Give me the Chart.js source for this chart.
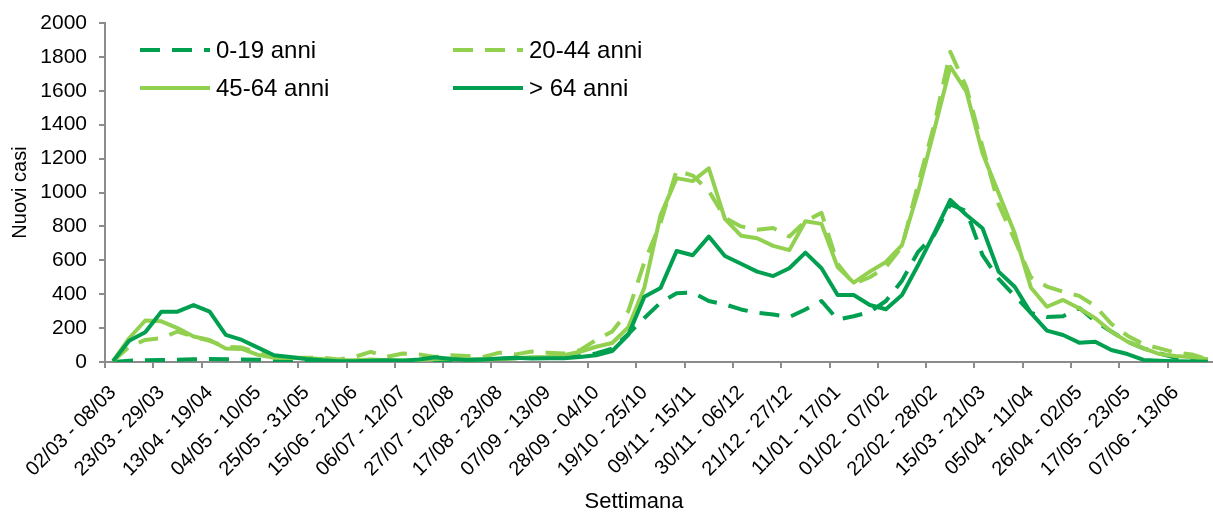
<!DOCTYPE html>
<html lang="it">
<head>
<meta charset="UTF-8">
<title>Nuovi casi per settimana e fascia d'età</title>
<script src="https://cdn.jsdelivr.net/npm/chart.js"></script>
<style>
    html, body { margin: 0; padding: 0; background: #fff; overflow: hidden; }
</style>
</head>
<body>
<canvas id="casi" width="1218" height="514"></canvas>

<script>
// settimane (02/03/2020 - 27/06/2021)
const settimane = [
    '02/03 - 08/03', '09/03 - 15/03', '16/03 - 22/03', '23/03 - 29/03', '30/03 - 05/04', '06/04 - 12/04',
    '13/04 - 19/04', '20/04 - 26/04', '27/04 - 03/05', '04/05 - 10/05', '11/05 - 17/05', '18/05 - 24/05',
    '25/05 - 31/05', '01/06 - 07/06', '08/06 - 14/06', '15/06 - 21/06', '22/06 - 28/06', '29/06 - 05/07',
    '06/07 - 12/07', '13/07 - 19/07', '20/07 - 26/07', '27/07 - 02/08', '03/08 - 09/08', '10/08 - 16/08',
    '17/08 - 23/08', '24/08 - 30/08', '31/08 - 06/09', '07/09 - 13/09', '14/09 - 20/09', '21/09 - 27/09',
    '28/09 - 04/10', '05/10 - 11/10', '12/10 - 18/10', '19/10 - 25/10', '26/10 - 01/11', '02/11 - 08/11',
    '09/11 - 15/11', '16/11 - 22/11', '23/11 - 29/11', '30/11 - 06/12', '07/12 - 13/12', '14/12 - 20/12',
    '21/12 - 27/12', '28/12 - 03/01', '04/01 - 10/01', '11/01 - 17/01', '18/01 - 24/01', '25/01 - 31/01',
    '01/02 - 07/02', '08/02 - 14/02', '15/02 - 21/02', '22/02 - 28/02', '01/03 - 07/03', '08/03 - 14/03',
    '15/03 - 21/03', '22/03 - 28/03', '29/03 - 04/04', '05/04 - 11/04', '12/04 - 18/04', '19/04 - 25/04',
    '26/04 - 02/05', '03/05 - 09/05', '10/05 - 16/05', '17/05 - 23/05', '24/05 - 30/05', '31/05 - 06/06',
    '07/06 - 13/06', '14/06 - 20/06', '21/06 - 27/06'
];

// nuovi casi per fascia d'età
const anni0_19 = [
    0, 8, 10, 12, 14, 16, 18, 16, 15, 14, 12, 10,
    8, 5, 4, 4, 5, 5, 6, 8, 10, 12, 14, 15,
    18, 22, 25, 25, 30, 35, 50, 80, 165, 260, 350, 405,
    410, 360, 340, 310, 290, 280, 265, 310, 360, 250, 270, 295,
    360, 480, 650, 750, 930, 890, 630, 490, 390, 290, 265, 270,
    320, 240, 180, 120, 80, 50, 25, 15, 10
];
const anni20_44 = [
    5, 90, 130, 140, 180, 150, 125, 90, 85, 55, 35, 25,
    25, 25, 15, 30, 60, 30, 50, 45, 30, 40, 35, 30,
    55, 45, 62, 55, 50, 70, 130, 180, 300, 590, 820, 1130,
    1100, 1010, 850, 800, 780, 790, 740, 830, 880, 580, 460, 500,
    560, 680, 1050, 1400, 1830, 1620, 1270, 930, 720, 500, 445, 415,
    390, 330, 225, 155, 105, 80, 55, 45, 15
];
const anni45_64 = [
    5, 140, 245, 240, 200, 150, 130, 80, 77, 42, 25, 24,
    22, 18, 12, 10, 15, 10, 10, 12, 18, 20, 15, 15,
    18, 22, 28, 30, 40, 60, 90, 112, 205, 440, 865, 1085,
    1067, 1143, 845, 745, 730, 685, 660, 830, 815, 560, 468, 533,
    590, 690, 1005, 1369, 1742, 1595, 1231, 995, 759, 440, 326, 366,
    317, 258, 179, 120, 81, 47, 35, 28, 16
];
const anniOltre64 = [
    5, 125, 175, 297, 297, 336, 297, 160, 130, 85, 40, 30,
    18, 10, 5, 5, 8, 10, 8, 15, 28, 18, 12, 15,
    20, 25, 20, 22, 22, 30, 40, 65, 160, 385, 436, 655,
    630, 740, 625, 580, 533, 507, 553, 645, 553, 395, 395, 336,
    311, 395, 572, 759, 956, 867, 789, 533, 444, 290, 185, 159,
    114, 120, 71, 47, 12, 8, 5, 3, 2
];

const yTicks = [0, 200, 400, 600, 800, 1000, 1200, 1400, 1600, 1800, 2000];

const VERDE_SCURO = '#00A050';
const VERDE_CHIARO = '#92D050';
const GRIGIO = '#8c8c8c';
const FONT = "'Liberation Sans', Arial, sans-serif";

Chart.defaults.font.family = FONT;
Chart.defaults.color = '#000';

// legenda su due colonne dentro l'area del grafico + titolo asse x
const legendaInterna = {
    id: 'legendaInterna',
    afterDraw(chart) {
        const ctx = chart.ctx;
        const colX = [140, 453];
        const rigaY = [50, 88];
        chart.data.datasets.forEach((ds, i) => {
            const x = colX[i % 2];
            const y = rigaY[Math.floor(i / 2)];
            ctx.save();
            ctx.strokeStyle = ds.borderColor;
            ctx.lineWidth = 4;
            ctx.setLineDash(ds.borderDash || []);
            ctx.beginPath();
            ctx.moveTo(x, y);
            ctx.lineTo(x + 70, y);
            ctx.stroke();
            ctx.setLineDash([]);
            ctx.fillStyle = '#000';
            ctx.font = '24px ' + FONT;
            ctx.textBaseline = 'middle';
            ctx.fillText(ds.label, x + 76, y + 1);
            ctx.restore();
        });

        ctx.save();
        ctx.fillStyle = '#000';
        ctx.font = '22px ' + FONT;
        ctx.textAlign = 'center';
        ctx.textBaseline = 'middle';
        ctx.fillText('Settimana', 634, 502);
        ctx.restore();
    }
};

const serie = (label, data, colore, tratteggio, ordine) => ({
    label: label,
    data: data,
    borderColor: colore,
    backgroundColor: colore,
    borderWidth: 4,
    borderDash: tratteggio,
    borderJoinStyle: 'round',
    pointRadius: 0,
    tension: 0,
    fill: false,
    order: ordine
});

new Chart(document.getElementById('casi'), {
    type: 'line',
    data: {
        labels: settimane,
        datasets: [
            serie('0-19 anni', anni0_19, VERDE_SCURO, [20, 12], 4),
            serie('20-44 anni', anni20_44, VERDE_CHIARO, [20, 12], 3),
            serie('45-64 anni', anni45_64, VERDE_CHIARO, [], 2),
            serie('> 64 anni', anniOltre64, VERDE_SCURO, [], 1)
        ]
    },
    options: {
        responsive: false,
        animation: false,
        layout: { padding: { top: 23, right: 2, left: 0, bottom: 0 } },
        plugins: {
            legend: { display: false },
            tooltip: { enabled: false }
        },
        scales: {
            x: {
                offset: true,
                grid: {
                    offset: true,
                    drawOnChartArea: false,
                    drawTicks: true,
                    tickLength: 6,
                    lineWidth: 2,
                    color: c => (c.index % 3 === 0 ? GRIGIO : 'rgba(0,0,0,0)')
                },
                border: { color: GRIGIO, width: 2 },
                ticks: {
                    autoSkip: false,
                    maxRotation: 45,
                    minRotation: 45,
                    padding: 13,
                    font: { size: 20 },
                    callback: function (v, i) {
                        return i % 3 === 0 ? this.getLabelForValue(v) : '';
                    }
                },
                afterFit: s => {
                    s.height = 152;
                    s.paddingLeft = 0;
                    s.paddingRight = 0;
                }
            },
            y: {
                min: 0,
                max: 2000,
                afterBuildTicks: s => { s.ticks = yTicks.map(v => ({ value: v })); },
                ticks: {
                    font: { size: 21 },
                    padding: 12,
                    callback: v => String(v)
                },
                grid: {
                    drawOnChartArea: false,
                    tickLength: 6,
                    lineWidth: 2,
                    color: GRIGIO
                },
                border: { color: GRIGIO, width: 2 },
                title: {
                    display: true,
                    text: 'Nuovi casi',
                    font: { size: 20 },
                    padding: { top: 8, bottom: 0 }
                },
                afterFit: s => {
                    s.width = 105;
                    s.paddingTop = 0;
                    s.paddingBottom = 0;
                }
            }
        }
    },
    plugins: [legendaInterna]
});
</script>
</body>
</html>
